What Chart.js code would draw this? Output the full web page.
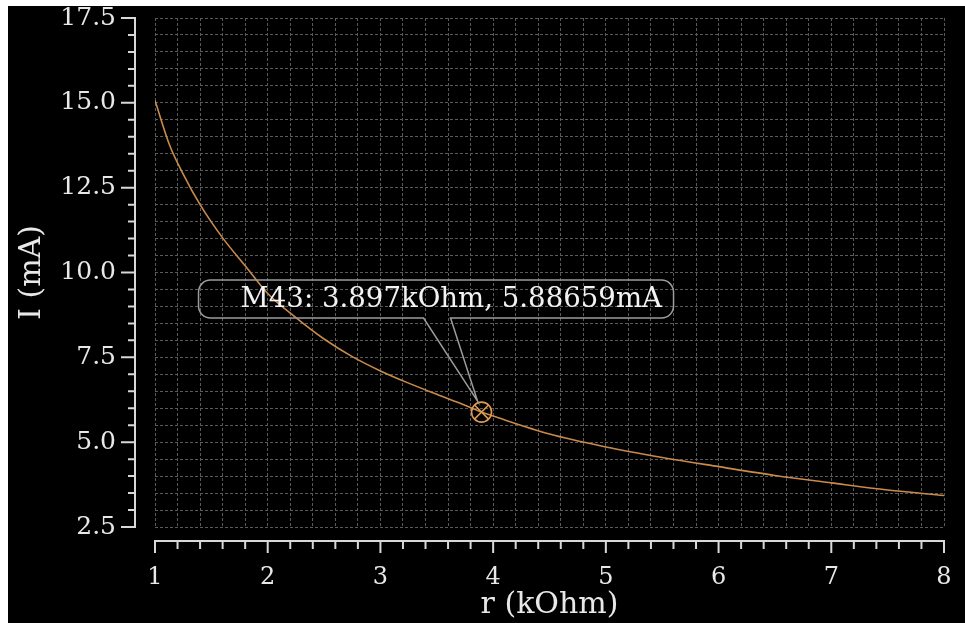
<!DOCTYPE html>
<html>
<head>
<meta charset="utf-8">
<script src="https://cdn.jsdelivr.net/npm/chart.js@4.4.1/dist/chart.umd.min.js"></script>
<style>
  html, body { margin: 0; padding: 0; background: #fff; }
  canvas { display: block; }
</style>
</head>
<body>
<canvas id="ivChart" width="965" height="623"></canvas>
<script>
// --- data ---
const rValues = [1, 1.13, 1.25, 1.4, 1.6, 1.8, 2, 2.25, 2.5, 2.75, 3, 3.25, 3.5, 3.75, 3.897, 4, 4.5, 5, 5.5, 6, 6.5, 7, 7.5, 8];
const iValues = [15.07, 13.75, 12.9, 12.0, 11.02, 10.2, 9.38, 8.67, 8.04, 7.52, 7.1, 6.74, 6.41, 6.09, 5.887, 5.77, 5.24, 4.86, 4.55, 4.28, 4.02, 3.8, 3.59, 3.43];

const markerName = 'M43';
const markerR = 3.897;
const markerI = 5.88659;

const xTickValues = [1, 2, 3, 4, 5, 6, 7, 8];
const xTickLabels = ['1', '2', '3', '4', '5', '6', '7', '8'];
const yTickValues = [2.5, 5, 7.5, 10, 12.5, 15, 17.5];
const yTickLabels = ['2.5', '5.0', '7.5', '10.0', '12.5', '15.0', '17.5'];

const FONT = "'DejaVu Serif', serif";
const curveColor = '#c98b4c';
const axisColor = '#d8d8d8';
const textColor = '#e8e8e8';

function labelFor(v, values, labels) {
    const i = values.findIndex(t => Math.abs(t - v) < 1e-6);
    return i >= 0 ? labels[i] : '';
}

// black frame, detached axes and the marker callout
const scopePlugin = {
    id: 'scope',
    beforeDraw(chart) {
        const c = chart.ctx;
        c.save();
        c.fillStyle = '#fff';
        c.fillRect(0, 0, chart.width, chart.height);
        c.fillStyle = '#000';
        c.fillRect(8, 6, chart.width - 8, chart.height - 6);
        c.restore();
    },
    afterDatasetsDraw(chart) {
        const c = chart.ctx;
        const x = chart.scales.x, y = chart.scales.y;
        const mx = x.getPixelForValue(markerR);
        const my = y.getPixelForValue(markerI);

        // callout bubble
        const L = mx - 283, R = mx + 192, T = my - 132, B = my - 94, rad = 12;
        const t1 = mx - 58, t2 = mx - 31;
        const tipX = mx - 4, tipY = my - 11;
        c.save();
        c.strokeStyle = '#9c9c9c';
        c.lineWidth = 1.5;
        c.beginPath();
        c.moveTo(L + rad, T);
        c.lineTo(R - rad, T);
        c.arcTo(R, T, R, T + rad, rad);
        c.lineTo(R, B - rad);
        c.arcTo(R, B, R - rad, B, rad);
        c.lineTo(t2, B);
        c.lineTo(tipX, tipY);
        c.lineTo(t1, B);
        c.lineTo(L + rad, B);
        c.arcTo(L, B, L, B - rad, rad);
        c.lineTo(L, T + rad);
        c.arcTo(L, T, L + rad, T, rad);
        c.closePath();
        c.stroke();

        c.fillStyle = '#f2f2f2';
        c.font = '27.6px ' + FONT;
        c.textBaseline = 'middle';
        c.textAlign = 'left';
        c.fillText(`${markerName}: ${markerR}kOhm, ${markerI}mA`, L + 42, (T + B) / 2 + 1);
        c.restore();
    },
    afterDraw(chart) {
        const c = chart.ctx;
        const x = chart.scales.x, y = chart.scales.y;
        const area = chart.chartArea;
        c.save();
        c.strokeStyle = axisColor;
        c.lineWidth = 2;

        // y axis, 20px left of the plot
        const ax = area.left - 20;
        c.beginPath();
        c.moveTo(ax, y.getPixelForValue(y.max));
        c.lineTo(ax, y.getPixelForValue(y.min));
        y.ticks.forEach(t => {
            const py = y.getPixelForValue(t.value);
            const major = labelFor(t.value, yTickValues, yTickLabels) !== '';
            c.moveTo(ax - (major ? 14 : 7), py);
            c.lineTo(ax + 1, py);
        });
        c.stroke();

        // x axis, 14px below the plot
        const ay = area.bottom + 14;
        c.beginPath();
        c.moveTo(x.getPixelForValue(x.min), ay);
        c.lineTo(x.getPixelForValue(x.max), ay);
        x.ticks.forEach(t => {
            const px = x.getPixelForValue(t.value);
            const major = labelFor(t.value, xTickValues, xTickLabels) !== '';
            c.moveTo(px, ay - 1);
            c.lineTo(px, ay + (major ? 12 : 8));
        });
        c.stroke();
        c.restore();
    }
};

const ctx = document.getElementById('ivChart').getContext('2d');

const ivChart = new Chart(ctx, {
    type: 'line',
    data: {
        datasets: [
            {
                label: 'I(r)',
                data: rValues.map((r, i) => ({ x: r, y: iValues[i] })),
                borderColor: curveColor,
                borderWidth: 1.6,
                pointRadius: 0,
                cubicInterpolationMode: 'monotone',
                fill: false,
                order: 3
            },
            {
                label: markerName,
                data: [{ x: markerR, y: markerI }],
                showLine: false,
                pointStyle: 'circle',
                pointRadius: 10,
                pointBorderWidth: 1.6,
                pointBorderColor: '#dc9a52',
                pointBackgroundColor: 'rgba(0,0,0,0)',
                order: 1
            },
            {
                label: markerName + ' x',
                data: [{ x: markerR, y: markerI }],
                showLine: false,
                pointStyle: 'crossRot',
                pointRadius: 10,
                pointBorderWidth: 1.6,
                pointBorderColor: '#dc9a52',
                order: 2
            }
        ]
    },
    options: {
        responsive: false,
        animation: false,
        layout: { autoPadding: false, padding: { top: 18, right: 21, bottom: 0, left: 0 } },
        plugins: {
            legend: { display: false },
            tooltip: { enabled: false }
        },
        scales: {
            x: {
                type: 'linear',
                min: 1, max: 8,
                afterFit: s => { s.height = 96; s.paddingLeft = 0; s.paddingRight = 0; },
                grid: { color: '#5a5a5a', lineWidth: 1, drawTicks: false },
                border: { display: false, dash: [3, 2] },
                ticks: {
                    stepSize: 0.2,
                    autoSkip: false,
                    maxRotation: 0,
                    padding: 36,
                    color: textColor,
                    font: { family: FONT, size: 24, lineHeight: 1.2 },
                    callback: v => labelFor(v, xTickValues, xTickLabels)
                },
                title: {
                    display: true,
                    text: 'r (kOhm)',
                    color: textColor,
                    font: { family: FONT, size: 30, lineHeight: 1.2 },
                    padding: { top: 0, bottom: 0 }
                }
            },
            y: {
                type: 'linear',
                min: 2.5, max: 17.5,
                afterFit: s => { s.width = 155; s.paddingTop = 0; s.paddingBottom = 0; },
                grid: { color: '#5a5a5a', lineWidth: 1, drawTicks: false },
                border: { display: false, dash: [3, 2] },
                ticks: {
                    stepSize: 0.5,
                    autoSkip: false,
                    padding: 39,
                    color: textColor,
                    font: { family: FONT, size: 25, lineHeight: 1.2 },
                    callback: v => labelFor(v, yTickValues, yTickLabels)
                },
                title: {
                    display: true,
                    text: 'I (mA)',
                    color: textColor,
                    font: { family: FONT, size: 30, lineHeight: 1.2 },
                    padding: { top: 14, bottom: 0 }
                }
            }
        }
    },
    plugins: [scopePlugin]
});
</script>
</body>
</html>
